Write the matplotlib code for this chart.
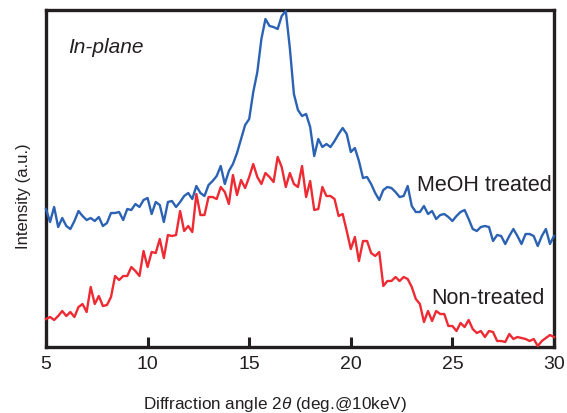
import numpy as np
import matplotlib
matplotlib.use('Agg')
import matplotlib.pyplot as plt

plt.rcParams['font.family'] = ['Liberation Sans', 'DejaVu Sans']
plt.rcParams['mathtext.fontset'] = 'custom'
plt.rcParams['mathtext.it'] = 'Liberation Sans:italic'
plt.rcParams['mathtext.rm'] = 'Liberation Sans'

# diffraction angle 2theta, 0.2 deg steps from 5 to 30
two_theta = np.linspace(5, 30, 126)

meoh_treated = [
    138, 125, 140, 120, 129, 121, 118, 126, 136, 131,
    127, 129, 126, 130, 121, 124, 134, 134, 135, 127,
    138, 137, 143, 140, 147, 149, 133, 145, 142, 125,
    145, 146, 140, 145, 151, 154, 148, 161, 154, 151,
    162, 166, 171, 181, 163, 176, 183, 194, 208, 222,
    228, 255, 275, 308, 328, 321, 320, 318, 331, 336,
    299, 253, 237, 231, 233, 220, 191, 208, 200, 203,
    200, 206, 213, 219, 213, 195, 199, 186, 169, 170,
    163, 154, 147, 157, 160, 159, 155, 150, 151, 161,
    141, 135, 135, 141, 133, 136, 128, 132, 133, 130,
    126, 131, 135, 137, 128, 118, 116, 120, 121, 120,
    106, 112, 111, 103, 111, 118, 111, 103, 113, 113,
    111, 101, 111, 118, 103, 111,
]

non_treated = [
    28, 30, 27, 31, 36, 31, 35, 30, 40, 43,
    35, 60, 43, 51, 41, 42, 50, 71, 67, 71,
    71, 80, 76, 71, 96, 80, 95, 94, 108, 89,
    112, 111, 112, 136, 116, 121, 115, 153, 132, 132,
    150, 150, 148, 160, 155, 143, 172, 152, 167, 159,
    170, 183, 170, 163, 174, 170, 165, 190, 180, 160,
    174, 163, 160, 181, 150, 166, 137, 138, 160, 151,
    151, 148, 131, 133, 116, 98, 110, 86, 106, 106,
    94, 91, 95, 61, 66, 66, 70, 66, 70, 68,
    60, 48, 43, 25, 36, 26, 36, 33, 33, 21,
    21, 16, 24, 20, 27, 18, 14, 16, 10, 16,
    15, 6, 6, 5, 13, 8, 10, 9, 8, 6,
    8, 1, 6, 9, 12, 10,
]

fig = plt.figure(figsize=(5.67, 4.14), dpi=100)
ax = fig.add_axes([0.0811, 0.1594, 0.8960, 0.8140])

ax.plot(two_theta, meoh_treated, color='#2b62b3', lw=1.7, clip_on=False, zorder=3)
ax.plot(two_theta, non_treated, color='#ee2a33', lw=1.7, clip_on=False, zorder=3)

ax.set_xlim(5, 30)
ax.set_ylim(0, 337)
ax.set_xticks([5, 10, 15, 20, 25, 30])
ax.set_yticks([])
ax.tick_params(axis='x', direction='in', length=7, width=2.2, labelsize=14,
               pad=6, colors='#231f20')
for s in ax.spines.values():
    s.set_linewidth(2.4)
    s.set_color('#231f20')

ax.set_xlabel('Diffraction angle 2$\\it{\\theta}$ (deg.@10keV)', fontsize=12.3,
              color='#231f20')
ax.xaxis.set_label_coords(0.451, -0.138)
ax.set_ylabel('Intensity (a.u.)', fontsize=12, color='#231f20')
ax.yaxis.set_label_coords(-0.03, 0.451)

ax.text(0.043, 0.893, 'In-plane', transform=ax.transAxes, fontsize=15,
        style='italic', color='#231f20', va='center')
ax.text(0.995, 0.483, 'MeOH treated', transform=ax.transAxes, fontsize=15.5,
        color='#231f20', ha='right', va='center')
ax.text(0.982, 0.148, 'Non-treated', transform=ax.transAxes, fontsize=15.5,
        color='#231f20', ha='right', va='center')

fig.savefig('out.png', dpi=100)
